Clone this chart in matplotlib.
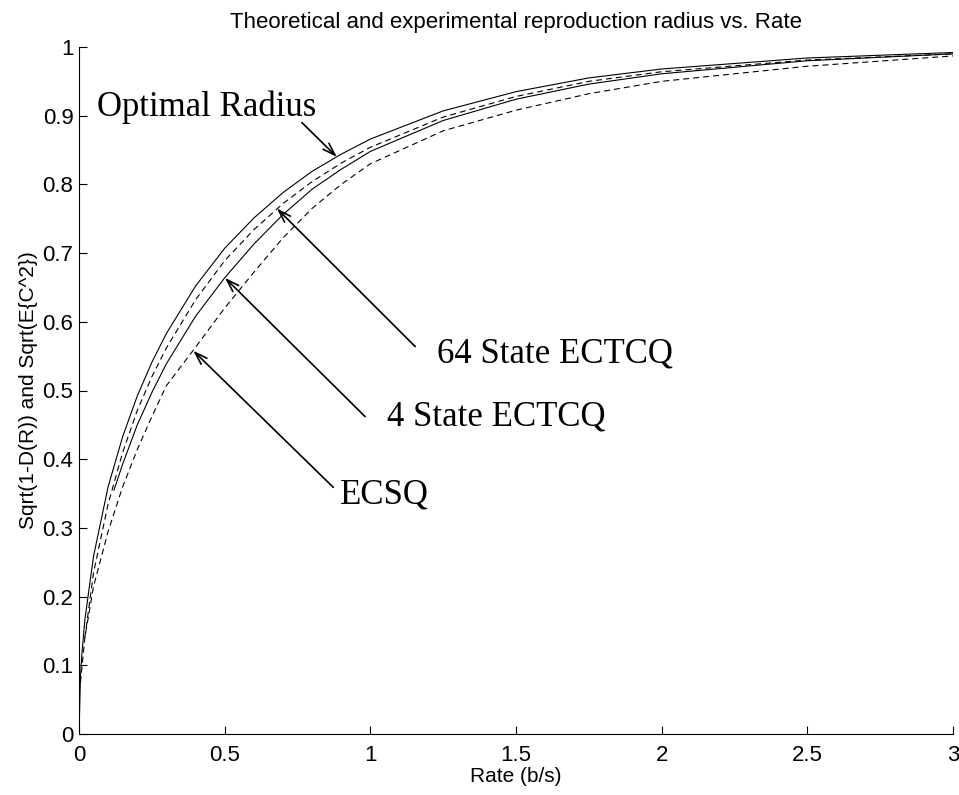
import matplotlib
matplotlib.use("Agg")
import matplotlib.pyplot as plt

# ---- data ----
rate_opt = [0, 0.005, 0.01, 0.02, 0.05, 0.1, 0.15, 0.2, 0.25, 0.3, 0.4, 0.5, 0.6,
            0.7, 0.8, 0.9, 1.0, 1.25, 1.5, 1.75, 2.0, 2.5, 3.0]
radius_opt = [0, 0.083, 0.117, 0.166, 0.259, 0.360, 0.433, 0.492, 0.541, 0.583,
              0.652, 0.707, 0.751, 0.788, 0.819, 0.844, 0.866, 0.907, 0.935,
              0.955, 0.968, 0.984, 0.992]

rate_64 = [0.02, 0.05, 0.1, 0.15, 0.2, 0.25, 0.3, 0.4, 0.5, 0.6, 0.7, 0.8, 0.9,
           1.0, 1.25, 1.5, 1.75, 2.0, 2.5, 3.0]
radius_64 = [0.14, 0.235, 0.335, 0.41, 0.471, 0.520, 0.562, 0.632, 0.689, 0.734,
             0.772, 0.804, 0.831, 0.854, 0.898, 0.928, 0.950, 0.964, 0.981, 0.990]

rate_4 = [0.12, 0.15, 0.2, 0.25, 0.3, 0.4, 0.5, 0.6, 0.7, 0.8, 0.9, 1.0, 1.25,
          1.5, 1.75, 2.0, 2.5, 3.0]
radius_4 = [0.355, 0.393, 0.450, 0.497, 0.539, 0.608, 0.664, 0.713, 0.756, 0.793,
            0.822, 0.848, 0.893, 0.924, 0.946, 0.961, 0.980, 0.990]

rate_ecsq = [0.005, 0.02, 0.05, 0.1, 0.15, 0.2, 0.25, 0.3, 0.4, 0.5, 0.6, 0.7,
             0.8, 0.9, 1.0, 1.25, 1.5, 1.75, 2.0, 2.5, 3.0]
radius_ecsq = [0.075, 0.14, 0.215, 0.295, 0.360, 0.414, 0.462, 0.507, 0.563,
               0.620, 0.672, 0.722, 0.765, 0.800, 0.830, 0.878, 0.908, 0.932,
               0.950, 0.972, 0.987]

xticks = [0, 0.5, 1, 1.5, 2, 2.5, 3]
xticklabels = ["0", "0.5", "1", "1.5", "2", "2.5", "3"]
yticks = [0, 0.1, 0.2, 0.3, 0.4, 0.5, 0.6, 0.7, 0.8, 0.9, 1]
yticklabels = ["0", "0.1", "0.2", "0.3", "0.4", "0.5", "0.6", "0.7", "0.8", "0.9", "1"]

# label text, text position, arrow tail, arrow tip
labels = ["Optimal Radius", "64 State ECTCQ", "4 State ECTCQ", "ECSQ"]
label_xy = [(0.062, 0.900), (1.229, 0.541), (1.056, 0.449), (0.896, 0.336)]
arrow_tail = [(0.765, 0.890), (1.154, 0.564), (0.982, 0.462), (0.873, 0.359)]
arrow_tip = [(0.885, 0.840), (0.679, 0.765), (0.501, 0.664), (0.392, 0.558)]

plt.rcParams['font.family'] = ['Liberation Sans', 'DejaVu Sans']

fig = plt.figure(figsize=(9.59, 7.95), dpi=100)
ax = fig.add_axes([79/959, 61/795, 874/959, 687/795])

lw = 0.8
ax.plot(rate_opt, radius_opt, color='k', lw=lw)
ax.plot(rate_64, radius_64, color='k', lw=lw, ls='--', dashes=(5.4, 3.6))
ax.plot(rate_4, radius_4, color='k', lw=lw)
ax.plot(rate_ecsq, radius_ecsq, color='k', lw=lw, ls='--', dashes=(5.4, 3.6))

for txt, pos, tail, tip in zip(labels, label_xy, arrow_tail, arrow_tip):
    ax.text(pos[0], pos[1], txt, family=['Liberation Serif', 'DejaVu Serif'],
            fontsize=25, ha='left', va='baseline')
    ax.annotate("", xy=tip, xytext=tail,
                arrowprops=dict(arrowstyle='->,head_length=0.9,head_width=0.3',
                                lw=1.2, color='k', shrinkA=0, shrinkB=0))

ax.set_xlim(0, 3)
ax.set_ylim(0, 1)
ax.set_xticks(xticks)
ax.set_xticklabels(xticklabels)
ax.set_yticks(yticks)
ax.set_yticklabels(yticklabels)
ax.tick_params(direction='in', length=6, width=0.8, labelsize=16)
ax.tick_params(axis='x', pad=8)
ax.tick_params(axis='y', pad=4)
ax.spines['top'].set_visible(False)
ax.spines['right'].set_visible(False)
ax.spines['left'].set_linewidth(0.8)
ax.spines['bottom'].set_linewidth(0.8)

ax.set_xlabel("Rate (b/s)", fontsize=15, labelpad=1)
ax.set_ylabel("Sqrt(1-D(R)) and Sqrt(E{C^2})", fontsize=15, labelpad=3)
ax.set_title("Theoretical and experimental reproduction radius vs. Rate",
             fontsize=16, pad=14)

fig.savefig("out.png", dpi=100)
